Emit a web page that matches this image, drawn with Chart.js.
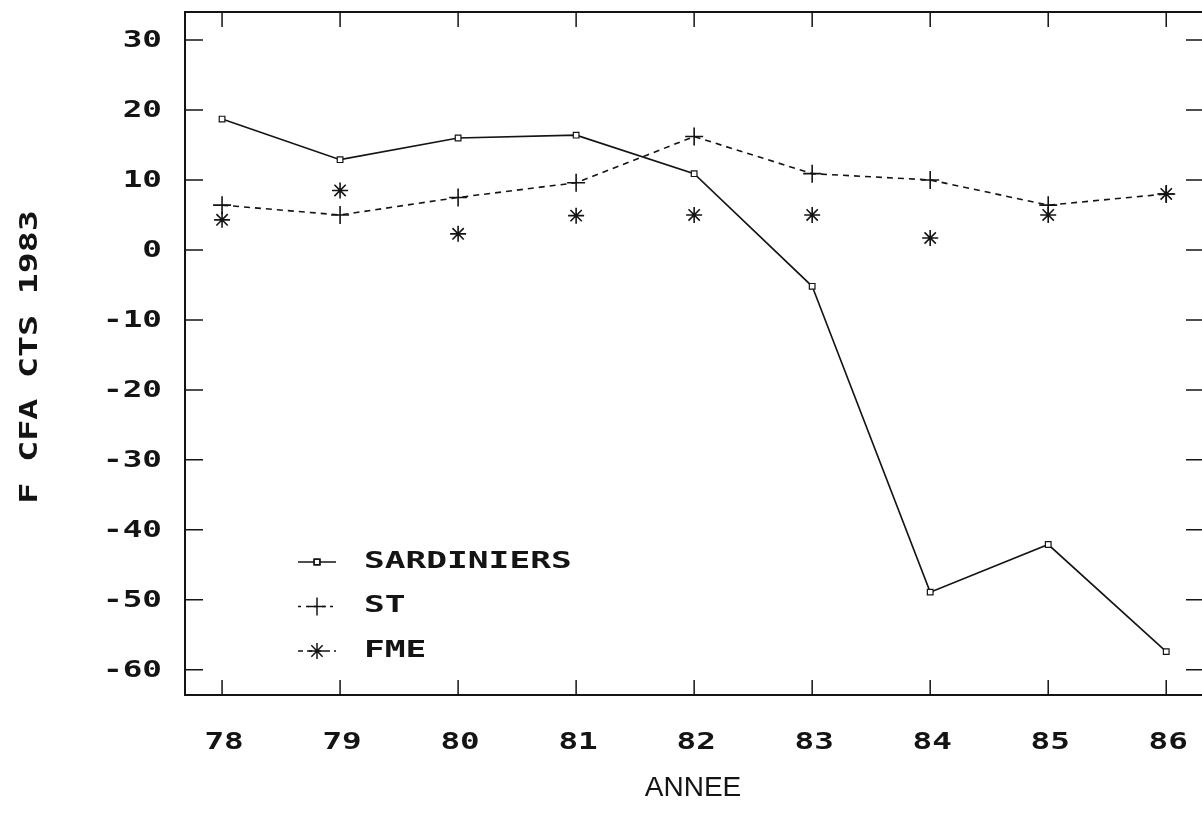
<!DOCTYPE html>
<html>
<head>
<meta charset="utf-8">
<script src="https://cdn.jsdelivr.net/npm/chart.js@4/dist/chart.umd.min.js"></script>
<style>
  html, body { margin: 0; padding: 0; background: #fff; overflow: hidden; }
  #wrap { width: 1202px; height: 830px; overflow: hidden; }
  #chart { width: 1206px; height: 830px; display: block; }
</style>
</head>
<body>
<div id="wrap"><canvas id="chart" width="1206" height="830"></canvas></div>
<script>
// years on the x axis (19xx)
const years = [78, 79, 80, 81, 82, 83, 84, 85, 86];
const sardiniers = [18.7, 12.9, 16.0, 16.4, 10.9, -5.2, -48.9, -42.1, -57.4];
const st = [6.4, 5.0, 7.5, 9.6, 16.2, 10.9, 10.0, 6.4, 8.0];
const fme = [4.3, 8.5, 2.3, 4.9, 5.0, 5.0, 1.7, 5.0, 8.0];
const yTicks = [-60, -50, -40, -30, -20, -10, 0, 10, 20, 30];
const seriesNames = ['SARDINIERS', 'ST', 'FME'];
const xTitle = 'ANNEE';
const yTitle = 'F CFA CTS 1983';

const ink = '#141414';
const mono = '"DejaVu Sans Mono", monospace';

const toPoints = vals => vals.map((v, i) => ({ x: years[i], y: v }));

// stretched text, to look like the wide plotter font
function wideText(ctx, text, x, y, align, size, sx) {
  ctx.save();
  ctx.translate(x, y);
  ctx.scale(sx, 1);
  ctx.font = 'bold ' + size + 'px ' + mono;
  ctx.textAlign = align;
  ctx.textBaseline = 'middle';
  ctx.fillStyle = ink;
  ctx.fillText(text, 0, 0);
  ctx.restore();
}

const framePlugin = {
  id: 'frame',
  afterDraw(chart) {
    const ctx = chart.ctx;
    const a = chart.chartArea;
    const xs = chart.scales.x, ys = chart.scales.y;
    ctx.save();
    ctx.strokeStyle = ink;
    ctx.lineWidth = 2;
    ctx.strokeRect(a.left, a.top, a.right - a.left, a.bottom - a.top);

    ctx.lineWidth = 1.5;
    yTicks.forEach(v => {
      const py = ys.getPixelForValue(v);
      ctx.beginPath();
      ctx.moveTo(a.left, py); ctx.lineTo(a.left + 18, py);
      ctx.moveTo(a.right, py); ctx.lineTo(a.right - 18, py);
      ctx.stroke();
      wideText(ctx, String(v), a.left - 23, py + 1, 'right', 23, 1.42);
    });
    years.forEach(yr => {
      const px = xs.getPixelForValue(yr);
      ctx.beginPath();
      ctx.moveTo(px, a.bottom); ctx.lineTo(px, a.bottom - 15);
      ctx.moveTo(px, a.top); ctx.lineTo(px, a.top + 15);
      ctx.stroke();
      wideText(ctx, String(yr), px + 2, a.bottom + 48, 'center', 23, 1.42);
    });

    // axis titles
    ctx.font = '28px "Liberation Sans", Arial, sans-serif';
    ctx.fillStyle = ink;
    ctx.textAlign = 'center';
    ctx.textBaseline = 'middle';
    ctx.fillText(xTitle, 693, 788);

    ctx.save();
    ctx.translate(31, 357);
    ctx.rotate(-Math.PI / 2);
    wideText(ctx, yTitle, 0, 0, 'center', 24, 1.45);
    ctx.restore();

    // legend
    chart.data.datasets.forEach((ds, i) => {
      const ly = 562 + i * 44.5;
      ctx.save();
      ctx.strokeStyle = ink;
      ctx.lineWidth = 1.5;
      ctx.setLineDash(ds.legendDash || []);
      ctx.beginPath();
      ctx.moveTo(298, ly); ctx.lineTo(336, ly);
      ctx.stroke();
      ctx.setLineDash([]);
      Chart.helpers.drawPoint(ctx, {
        pointStyle: ds.pointStyle,
        radius: ds.pointRadius,
        borderWidth: 1.5
      }, 317, ly);
      if (ds.pointStyle === 'rect') { ctx.fillStyle = '#fff'; ctx.fill(); ctx.stroke(); }
      ctx.restore();
      wideText(ctx, ds.label, 364, ly, 'left', 23, 1.5);
    });
    ctx.restore();
  }
};

new Chart(document.getElementById('chart'), {
  type: 'line',
  data: {
    datasets: [
      {
        label: seriesNames[0],
        data: toPoints(sardiniers),
        borderColor: ink,
        borderWidth: 1.6,
        pointStyle: 'rect',
        pointRadius: 4,
        pointBackgroundColor: '#fff',
        pointBorderColor: ink,
        pointBorderWidth: 1.2,
        legendDash: []
      },
      {
        label: seriesNames[1],
        data: toPoints(st),
        borderColor: ink,
        borderWidth: 1.6,
        borderDash: [6, 5],
        pointStyle: 'cross',
        pointRadius: 9,
        pointBorderColor: ink,
        pointBorderWidth: 1.6,
        legendDash: [3, 5]
      },
      {
        label: seriesNames[2],
        data: toPoints(fme),
        showLine: false,
        borderColor: ink,
        pointStyle: 'star',
        pointRadius: 8,
        pointBorderColor: ink,
        pointBorderWidth: 1.6,
        legendDash: [5, 4]
      }
    ]
  },
  options: {
    responsive: false,
    animation: false,
    layout: { autoPadding: false, padding: { left: 185, top: 12, right: 2, bottom: 135 } },
    plugins: { legend: { display: false }, tooltip: { enabled: false } },
    scales: {
      x: { type: 'linear', min: 77.686, max: 86.32, display: false },
      y: { min: -63.6, max: 34, display: false }
    }
  },
  plugins: [framePlugin]
});
</script>
</body>
</html>
